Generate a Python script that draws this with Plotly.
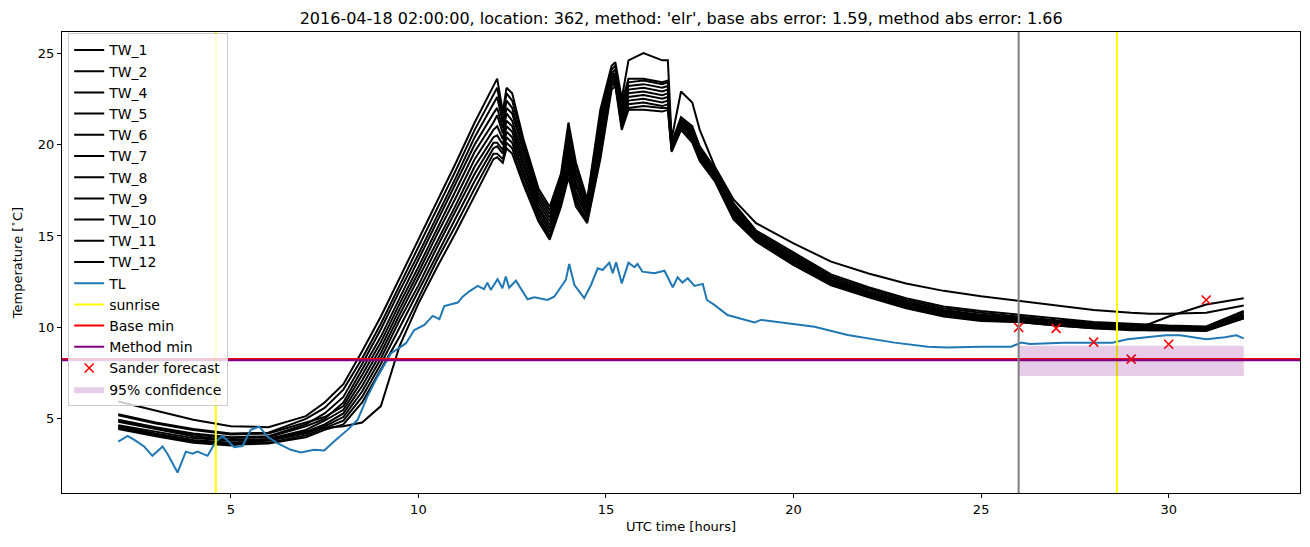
import plotly.graph_objects as go

# ---------------- data ----------------
t_tw = [2, 3, 4, 5, 6, 7, 7.5, 8, 8.5, 9, 9.5, 10, 10.5, 11, 11.5, 12.0, 12.1, 12.25, 12.35, 12.5,
        12.8, 13.2, 13.5, 13.8, 14.0, 14.2, 14.5, 14.85, 15.15, 15.25, 15.42, 15.6, 16.0, 16.5, 16.65,
        16.75, 17.0, 17.3, 17.5, 17.9, 18.4, 19, 20, 21, 22, 23, 24, 25, 26, 27, 28, 29, 29.5, 30, 31, 32]

tw_2 = [5.95, 5.45, 4.95, 4.6, 4.55, 5.15, 5.9, 6.9, 8.7, 10.6, 12.7, 14.8, 16.9, 19.0, 21.2, 23.2, 23.6, 21.8,
        23.1, 22.8, 20.3, 17.6, 16.6, 18.4, 21.2, 19.0, 17.0, 21.9, 24.3, 24.5, 22.5, 24.6, 25.0, 24.6, 24.6,
        20.3, 22.9, 22.3, 20.8, 18.8, 17.0, 15.7, 14.6, 13.6, 12.95, 12.4, 12.0, 11.7, 11.45, 11.2, 10.95,
        10.8, 10.75, 10.75, 10.8, 11.2]
tw_1 = [5.25, 4.8, 4.45, 4.2, 4.25, 5.0, 5.6, 6.6, 8.3, 10.2, 12.3, 14.4, 16.5, 18.6, 20.8, 22.7, 23.1, 21.5,
        22.8, 22.4, 20.1, 17.4, 16.4, 18.2, 20.9, 18.7, 16.9, 21.6, 24.1, 24.3, 22.3, 23.6, 23.6, 23.4, 23.5,
        20.1, 21.5, 21.0, 19.9, 18.7, 16.8, 15.3, 14.1, 12.9, 12.2, 11.6, 11.15, 10.9, 10.7, 10.5, 10.3,
        10.2, 10.15, 10.1, 10.05, 10.9]
tw_4 = [4.95, 4.55, 4.2, 4.0, 4.05, 4.7, 5.3, 6.2, 8.0, 9.9, 12.0, 14.0, 16.1, 18.2, 20.4, 22.2, 22.6, 21.2,
        22.4, 22.0, 19.8, 17.2, 16.2, 18.0, 20.6, 18.4, 16.7, 21.3, 23.9, 24.1, 22.1, 23.4, 23.5, 23.3, 23.4,
        20.0, 21.4, 20.9, 19.8, 18.6, 16.7, 15.2, 14.0, 12.8, 12.1, 11.5, 11.05, 10.8, 10.6, 10.4, 10.25,
        10.15, 10.1, 10.05, 10.0, 10.85]
tw_6 = [4.9, 4.5, 4.15, 3.95, 4.0, 4.6, 5.0, 5.9, 7.7, 9.5, 11.6, 13.7, 15.8, 17.9, 20.0, 21.7, 22.0, 20.9,
        22.0, 21.7, 19.6, 17.0, 16.0, 17.8, 20.3, 18.2, 16.6, 21.0, 23.8, 23.9, 21.9, 23.2, 23.3, 23.1, 23.2,
        20.0, 21.3, 20.8, 19.7, 18.5, 16.6, 15.1, 13.9, 12.7, 12.0, 11.4, 10.95, 10.7, 10.55, 10.35, 10.2,
        10.1, 10.05, 10.0, 9.95, 10.75]
tw_5 = [5.2, 4.75, 4.4, 4.15, 4.2, 4.8, 5.1, 5.7, 7.4, 9.2, 11.3, 13.3, 15.4, 17.5, 19.6, 21.2, 21.6, 20.6,
        21.7, 21.3, 19.3, 16.8, 15.8, 17.6, 20.0, 17.9, 16.5, 20.8, 23.7, 23.8, 21.7, 23.0, 23.1, 22.9, 23.0,
        19.9, 21.2, 20.7, 19.6, 18.4, 16.5, 15.0, 13.8, 12.6, 11.95, 11.35, 10.9, 10.65, 10.5, 10.3, 10.15,
        10.05, 10.0, 9.95, 9.95, 10.7]
tw_7 = [4.85, 4.45, 4.05, 3.85, 3.9, 4.4, 4.9, 5.5, 7.1, 8.9, 11.0, 13.0, 15.1, 17.1, 19.2, 20.8, 21.0, 20.3,
        21.3, 21.0, 19.0, 16.6, 15.6, 17.4, 19.7, 17.7, 16.3, 20.5, 23.6, 23.7, 21.6, 22.8, 22.9, 22.7, 22.8,
        19.9, 21.1, 20.6, 19.5, 18.3, 16.4, 14.95, 13.7, 12.55, 11.9, 11.3, 10.85, 10.6, 10.45, 10.25, 10.1,
        10.0, 9.95, 9.95, 9.9, 10.65]
tw_8 = [4.65, 4.3, 3.95, 3.8, 3.85, 4.3, 4.7, 5.3, 6.8, 8.6, 10.7, 12.7, 14.7, 16.7, 18.8, 20.4, 20.5, 20.0,
        21.0, 20.7, 18.8, 16.5, 15.4, 17.2, 19.4, 17.4, 16.2, 20.2, 23.5, 23.6, 21.4, 22.6, 22.7, 22.5, 22.6,
        19.8, 21.0, 20.5, 19.4, 18.3, 16.3, 14.9, 13.65, 12.5, 11.85, 11.25, 10.8, 10.55, 10.4, 10.2, 10.05,
        9.95, 9.9, 9.9, 9.9, 10.6]
tw_10 = [4.6, 4.2, 3.85, 3.7, 3.8, 4.2, 4.6, 5.1, 6.5, 8.3, 10.4, 12.3, 14.4, 16.4, 18.4, 20.1, 20.1, 19.7,
         20.7, 20.4, 18.5, 16.3, 15.2, 17.0, 19.1, 17.2, 16.1, 19.9, 23.4, 23.5, 21.3, 22.4, 22.5, 22.3, 22.4,
         19.8, 20.9, 20.4, 19.3, 18.2, 16.2, 14.85, 13.6, 12.45, 11.8, 11.2, 10.75, 10.5, 10.4, 10.2, 10.05,
         9.95, 9.9, 9.9, 9.85, 10.55]
tw_11 = [4.55, 4.15, 3.8, 3.65, 3.7, 4.1, 4.5, 4.9, 6.2, 8.0, 10.0, 12.0, 14.0, 16.0, 18.0, 19.8, 19.9, 19.5,
         20.4, 20.1, 18.3, 16.1, 15.0, 16.8, 18.8, 17.0, 15.9, 19.7, 23.3, 23.4, 21.1, 22.2, 22.3, 22.1, 22.2,
         19.7, 20.9, 20.3, 19.3, 18.1, 16.1, 14.8, 13.5, 12.4, 11.75, 11.15, 10.7, 10.45, 10.35, 10.15, 10.0,
         9.9, 9.85, 9.85, 9.85, 10.5]
tw_12 = [4.5, 4.1, 3.75, 3.6, 3.65, 4.0, 4.4, 4.7, 5.9, 7.7, 9.5, 11.6, 13.7, 15.6, 17.6, 19.5, 19.5, 19.2,
         20.1, 19.8, 18.0, 15.9, 14.9, 16.7, 18.5, 16.8, 15.8, 19.4, 23.2, 23.3, 21.0, 22.0, 22.1, 22.0, 22.0,
         19.7, 20.8, 20.2, 19.2, 18.1, 16.0, 14.75, 13.45, 12.35, 11.7, 11.1, 10.65, 10.4, 10.3, 10.1, 9.95,
         9.9, 10.2, 10.6, 11.25, 11.6]
tw_9 = [4.45, 4.05, 3.7, 3.55, 3.9, 4.3, 4.5, 4.6, 4.8, 5.7, 9.0, 11.3, 13.3, 15.2, 17.2, 19.2, 19.3, 19.0,
        19.8, 19.5, 17.8, 15.8, 14.8, 16.6, 18.2, 16.6, 15.7, 19.2, 23.0, 23.2, 20.8, 21.9, 21.9, 21.8, 21.9,
        19.6, 20.8, 20.1, 19.1, 18.0, 15.9, 14.7, 13.4, 12.3, 11.65, 11.05, 10.6, 10.35, 10.3, 10.1, 9.95,
        9.85, 9.85, 9.85, 9.8, 10.5]

tw_names = ["TW_1", "TW_2", "TW_4", "TW_5", "TW_6", "TW_7", "TW_8", "TW_9", "TW_10", "TW_11", "TW_12"]
tw_values = [tw_1, tw_2, tw_4, tw_5, tw_6, tw_7, tw_8, tw_9, tw_10, tw_11, tw_12]

tl_t = [2.0, 2.25, 2.43, 2.69, 2.91, 3.18, 3.31, 3.58, 3.8, 3.98, 4.11, 4.38, 4.6, 4.78, 5.09, 5.31, 5.53,
        5.76, 5.98, 6.24, 6.6, 6.87, 7.22, 7.49, 7.75, 8.11, 8.38, 8.64, 8.91, 9.27, 9.5, 9.67, 9.89, 10.16,
        10.38, 10.56, 10.69, 11.05, 11.18, 11.35, 11.58, 11.75, 11.84, 11.93, 12.11, 12.24, 12.33, 12.42,
        12.6, 12.91, 13.09, 13.44, 13.62, 13.8, 13.93, 14.02, 14.16, 14.42, 14.6, 14.78, 14.91, 15.09, 15.18,
        15.27, 15.42, 15.6, 15.76, 15.84, 15.97, 16.29, 16.56, 16.78, 16.91, 17.04, 17.18, 17.36, 17.58,
        17.69, 17.89, 18.24, 18.69, 18.96, 19.13, 19.67, 20.56, 21.44, 22.69, 23.58, 24.1, 25.0, 25.8, 26.07,
        26.3, 27.2, 28.5, 28.9, 29.4, 29.93, 30.3, 31.0, 31.5, 31.8, 32.0]
tl_v = [3.76, 4.07, 3.85, 3.49, 2.98, 3.49, 3.1, 2.07, 3.21, 3.1, 3.21, 2.98, 3.76, 4.07, 3.45, 3.52, 4.4,
        4.58, 4.03, 3.67, 3.31, 3.16, 3.31, 3.27, 3.76, 4.4, 4.95, 6.22, 7.31, 8.59, 8.9, 9.14, 9.86, 10.14,
        10.63, 10.45, 11.17, 11.36, 11.68, 11.96, 12.27, 12.09, 12.45, 12.05, 12.63, 12.14, 12.78, 12.17,
        12.56, 11.54, 11.65, 11.5, 11.68, 12.23, 12.6, 13.47, 12.32, 11.6, 12.32, 13.23, 13.14, 13.54, 12.96,
        13.56, 12.41, 13.54, 13.29, 13.47, 13.05, 12.96, 13.1, 12.2, 12.74, 12.45, 12.69, 12.27, 12.38,
        11.5, 11.23, 10.68, 10.41, 10.27, 10.41, 10.27, 10.04, 9.59, 9.17, 8.95, 8.9, 8.95, 8.95, 9.17,
        9.1, 9.17, 9.17, 9.35, 9.46, 9.57, 9.57, 9.35, 9.46, 9.57, 9.4]

sunrise_t = [4.6, 28.62]
forecast_start = 26.0
base_min = 8.27
method_min = 8.2
sander_t = [26, 27, 28, 29, 30, 31]
sander_v = [10.0, 9.95, 9.2, 8.27, 9.08, 11.5]
conf_t = [26, 32]
conf_low = 7.35
conf_high = 9.0

x_range = [0.5, 33.5]
y_range = [0.95, 26.15]

title = ("2016-04-18 02:00:00, location: 362, method: 'elr', "
         "base abs error: 1.59, method abs error: 1.66")

# ---------------- figure ----------------
fig = go.Figure()
for name, vals in zip(tw_names, tw_values):
    fig.add_trace(go.Scatter(x=t_tw, y=vals, mode="lines", name=name,
                             line=dict(color="black", width=2)))

fig.add_trace(go.Scatter(x=tl_t, y=tl_v, mode="lines", name="TL",
                         line=dict(color="#1f77b4", width=2)))

sx, sy = [], []
for s in sunrise_t:
    sx += [s, s, None]
    sy += [y_range[0], y_range[1], None]
fig.add_trace(go.Scatter(x=sx, y=sy, mode="lines", name="sunrise",
                         line=dict(color="yellow", width=2)))

fig.add_trace(go.Scatter(x=x_range, y=[base_min, base_min], mode="lines", name="Base min",
                         line=dict(color="red", width=2)))
fig.add_trace(go.Scatter(x=x_range, y=[method_min, method_min], mode="lines", name="Method min",
                         line=dict(color="purple", width=2)))
fig.add_trace(go.Scatter(x=sander_t, y=sander_v, mode="markers", name="Sander forecast",
                         marker=dict(symbol="x-thin", size=9,
                                     line=dict(color="red", width=1.6))))
fig.add_trace(go.Scatter(x=[conf_t[0], conf_t[1], conf_t[1], conf_t[0], conf_t[0]],
                         y=[conf_low, conf_low, conf_high, conf_high, conf_low],
                         mode="lines", fill="toself", fillcolor="rgba(128,0,128,0.2)",
                         line=dict(width=0, color="rgba(128,0,128,0.2)"),
                         name="95% confidence"))
fig.add_trace(go.Scatter(x=[forecast_start, forecast_start], y=y_range, mode="lines",
                         showlegend=False, line=dict(color="gray", width=2)))

axis_common = dict(showgrid=False, zeroline=False, showline=True, linecolor="black",
                   linewidth=1, mirror=True, ticks="outside", ticklen=4, tickcolor="black",
                   tickfont=dict(size=13, color="black"))

fig.update_layout(
    width=1310, height=547,
    margin=dict(l=62, r=10, t=32, b=54),
    paper_bgcolor="white", plot_bgcolor="white",
    font=dict(family="DejaVu Sans", size=13, color="black"),
    title=dict(text=title, x=0.52, xanchor="center", y=0.967, yanchor="middle",
               font=dict(size=16, color="black")),
    xaxis=dict(range=x_range, tickvals=[5, 10, 15, 20, 25, 30],
               title=dict(text="UTC time [hours]", font=dict(size=13), standoff=6), **axis_common),
    yaxis=dict(range=y_range, tickvals=[5, 10, 15, 20, 25],
               title=dict(text="Temperature [<sup>∘</sup>C]", font=dict(size=13), standoff=12),
               **axis_common),
    legend=dict(x=0.005, y=0.997, xanchor="left", yanchor="top",
                bgcolor="rgba(255,255,255,0.8)", bordercolor="#cccccc", borderwidth=1,
                font=dict(size=14), tracegroupgap=0, itemwidth=30),
    showlegend=True,
)

fig.write_html("out.html")
